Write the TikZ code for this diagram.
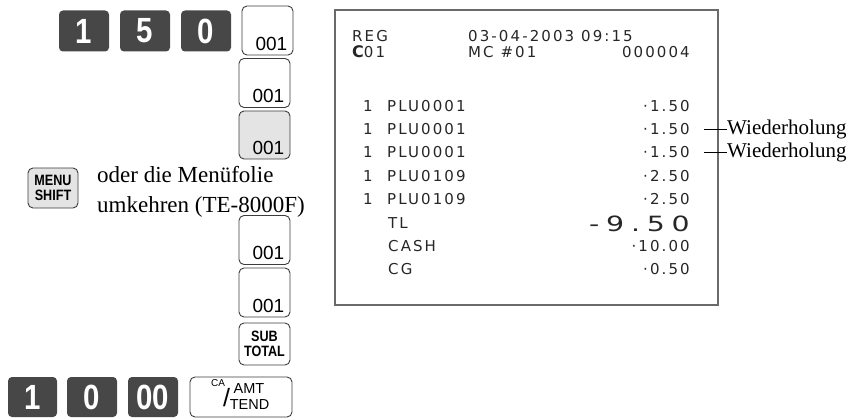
\documentclass[tikz,border=0pt]{standalone}
\usepackage{fontspec}
\setmainfont{Liberation Serif}
\setsansfont{Liberation Sans}
\newfontfamily\rcptfont[LetterSpace=14]{DejaVu Sans}
\newfontfamily\totfont[LetterSpace=24]{DejaVu Sans}
\newfontfamily\keyfont[FakeStretch=0.84]{Liberation Sans}
\usetikzlibrary{positioning}
\definecolor{keydark}{HTML}{474747}
\definecolor{keyedge}{HTML}{3C3C3C}
\definecolor{keygray}{HTML}{E4E4E4}
\definecolor{rcptedge}{HTML}{6A6A6A}
\definecolor{rcpttext}{HTML}{262626}
\tikzset{
  darkkey/.style={rectangle,rounded corners=4pt,fill=keydark,text=white,
    font=\keyfont\bfseries\fontsize{35}{35}\selectfont,
    minimum width=50pt,minimum height=41pt,inner sep=0pt},
  numkey/.style={rectangle,rounded corners=5pt,draw=keyedge,line width=0.9pt,
    minimum width=51pt,minimum height=49pt,inner sep=0pt},
  smallkey/.style={rectangle,rounded corners=5pt,draw=keyedge,line width=0.9pt,
    minimum width=51pt,minimum height=42pt,inner sep=0pt,align=center,
    font=\keyfont\bfseries\fontsize{15}{15}\selectfont},
  keytxt/.style={inner sep=0pt,font=\sffamily\fontsize{19}{19}\selectfont},
  tendtxt/.style={inner sep=0pt,font=\sffamily\fontsize{14.5}{14.5}\selectfont},
  rcpt/.style={anchor=base west,inner sep=0pt,text=rcpttext,
    font=\rcptfont\fontsize{15}{15}\selectfont},
  rval/.style={rcpt,anchor=base east},
  note/.style={inner sep=0pt,anchor=base west,font=\fontsize{23}{23}\selectfont},
  rnote/.style={inner sep=0pt,anchor=west,font=\fontsize{21}{21}\selectfont},
  tick/.style={line width=0.6pt}
}

\begin{document}
\begin{tikzpicture}[x=1pt,y=-1pt]
\useasboundingbox (0,0) rectangle (854,420);

% keys, first row
\node[darkkey] (d1) at (84,31) {1};
\node[darkkey] (d5) at (145,31) {5};
\node[darkkey] (d0) at (206,31) {0};
\node[numkey] (p1) at (267.5,30.5) {};
\node[keytxt,anchor=south east] (p1t) at ([xshift=-6pt,yshift=5pt]p1.south east) {001};

% repeated PLU keys
\node[numkey] (p2) at (264.5,83) {};
\node[keytxt,anchor=south east] (p2t) at ([xshift=-6pt,yshift=5pt]p2.south east) {001};
\node[numkey,fill=keygray,minimum height=48pt] (p3) at (264.5,135) {};
\node[keytxt,anchor=south east] (p3t) at ([xshift=-6pt,yshift=5pt]p3.south east) {001};

% menu shift
\node[smallkey,fill=keygray,minimum width=50pt,minimum height=40pt] (ms) at (53,188) {MENU\\SHIFT};
\node[note] (ms1) at (97,182) {oder die Menüfolie};
\node[note] (ms2) at (97,212) {umkehren (TE-8000F)};

\node[numkey] (p4) at (264.5,240) {};
\node[keytxt,anchor=south east] (p4t) at ([xshift=-6pt,yshift=5pt]p4.south east) {001};
\node[numkey] (p5) at (264.5,292.5) {};
\node[keytxt,anchor=south east] (p5t) at ([xshift=-6pt,yshift=5pt]p5.south east) {001};
\node[smallkey] (st) at (264.5,344) {SUB\\TOTAL};

% tender row
\node[darkkey,minimum width=49pt,minimum height=40pt] (c1) at (32.5,397) {1};
\node[darkkey,minimum height=40pt] (c0) at (92,397) {0};
\node[darkkey,minimum height=40pt] (c00) at (153,397) {00};
\node[smallkey,minimum width=102pt,minimum height=40pt] (ca) at (241,397) {};
\node[tendtxt,font=\sffamily\fontsize{10}{10}\selectfont] (cat) at (218,383.5) {CA};
\node[tendtxt,font=\sffamily\fontsize{25}{25}\selectfont] (cas) at (226.5,398) {/};
\node[tendtxt] (amt) at (249,388.5) {AMT};
\node[tendtxt] (tend) at (249.5,405) {TEND};

% receipt
\draw[rcptedge,line width=1.1pt] (335,10) rectangle (718,305);
\node[rcpt] (reg) at (352,42) {REG};
\node[rcpt] (date) at (468,42) {03-04-2003 09:15};
\node[rcpt] (clk) at (352,58) {{\fontsize{16}{16}\selectfont\bfseries C}01};
\node[rcpt] (mc) at (468,58) {MC \#01};
\node[rval] (cnt) at (690,58) {000004};

\foreach \n/\y/\item/\val in {1/111/PLU0001/1.50, 2/134/PLU0001/1.50, 3/157/PLU0001/1.50,
    4/181/PLU0109/2.50, 5/204/PLU0109/2.50}{
  \node[rcpt] (q\n) at (363,\y) {1};
  \node[rcpt] (i\n) at (387,\y) {\item};
  \node[rval] (v\n) at (690,\y) {·\val};
}
\node[rcpt] (tl) at (388,228) {TL};
\node[rval,xscale=1.35,font=\totfont\fontsize{21}{21}\selectfont] (tlv) at (690,231) {-9.50};
\node[rcpt] (cash) at (388,251) {CASH};
\node[rval] (cashv) at (690,251) {·10.00};
\node[rcpt] (cg) at (388,274) {CG};
\node[rval] (cgv) at (690,274) {·0.50};

% repeat notes
\node[rnote] (w1) at (727,129) {Wiederholung};
\node[rnote] (w2) at (727,152) {Wiederholung};
\coordinate (t1) at (704,129);
\coordinate (t2) at (704,152);
\draw[tick] (t1) -- (w1.west);
\draw[tick] (t2) -- (w2.west);
\end{tikzpicture}
\end{document}
